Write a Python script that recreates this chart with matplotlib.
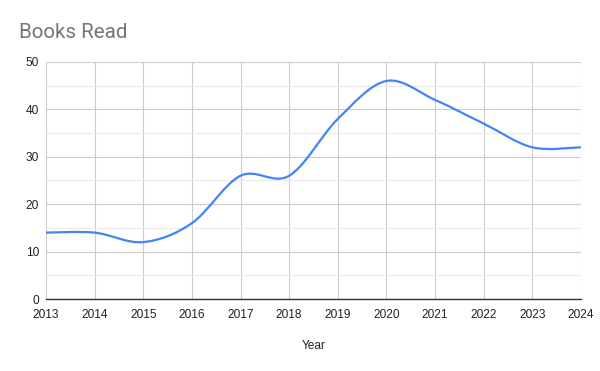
import matplotlib
matplotlib.use("Agg")
import matplotlib.pyplot as plt
from matplotlib.path import Path
from matplotlib.patches import PathPatch

years = [2013, 2014, 2015, 2016, 2017, 2018, 2019, 2020, 2021, 2022, 2023, 2024]
books = [14, 14, 12, 16, 26, 26, 38, 46, 42, 37, 32, 32]
y_ticks = [0, 10, 20, 30, 40, 50]

fig = plt.figure(figsize=(6, 3.71), dpi=100)
ax = fig.add_axes([46/600, 1-299/371, (581-46)/600, (299-62)/371])

# Smooth curve through points (Catmull-Rom style cubic Bezier)
verts = [(years[0], books[0])]
codes = [Path.MOVETO]
n = len(years)
for i in range(n - 1):
    x0, y0 = years[max(i-1, 0)], books[max(i-1, 0)]
    x1, y1 = years[i], books[i]
    x2, y2 = years[i+1], books[i+1]
    x3, y3 = years[min(i+2, n-1)], books[min(i+2, n-1)]
    c1 = (x1 + (x2 - x0) / 6, y1 + (y2 - y0) / 6)
    c2 = (x2 - (x3 - x1) / 6, y2 - (y3 - y1) / 6)
    verts += [c1, c2, (x2, y2)]
    codes += [Path.CURVE4] * 3
ax.add_patch(PathPatch(Path(verts, codes), facecolor='none', edgecolor='#4285F4',
                       lw=1.6, zorder=3, capstyle='round', joinstyle='round'))

ax.set_xlim(years[0], years[-1])
ax.set_ylim(0, 50)
ax.set_xticks(years)
ax.set_xticklabels([str(y) for y in years])
ax.set_yticks(y_ticks)
ax.set_yticks([5, 15, 25, 35, 45], minor=True)

for s in ['top', 'left', 'right']:
    ax.spines[s].set_visible(False)
ax.spines['bottom'].set_color('#333333')
ax.spines['bottom'].set_linewidth(1.0)
ax.spines['bottom'].set_zorder(4)

ax.grid(True, which='major', color='#cccccc', lw=0.8)
ax.grid(True, which='minor', axis='y', color='#ebebeb', lw=0.8)
ax.set_axisbelow(True)

ax.tick_params(axis='both', which='both', length=0, labelsize=8.6, colors='#222222')
ax.tick_params(axis='x', pad=7)
ax.tick_params(axis='y', pad=5)
for lab in ax.get_xticklabels() + ax.get_yticklabels():
    lab.set_family('Liberation Sans')

ax.set_xlabel('Year', fontsize=8.6, color='#222222', family='Liberation Sans', labelpad=14)

fig.text(19/600, 1-33/371, 'Books Read', fontsize=14.8, color='#757575',
         family='Roboto', va='center', ha='left')

fig.savefig('out.png', dpi=100, facecolor='white')
